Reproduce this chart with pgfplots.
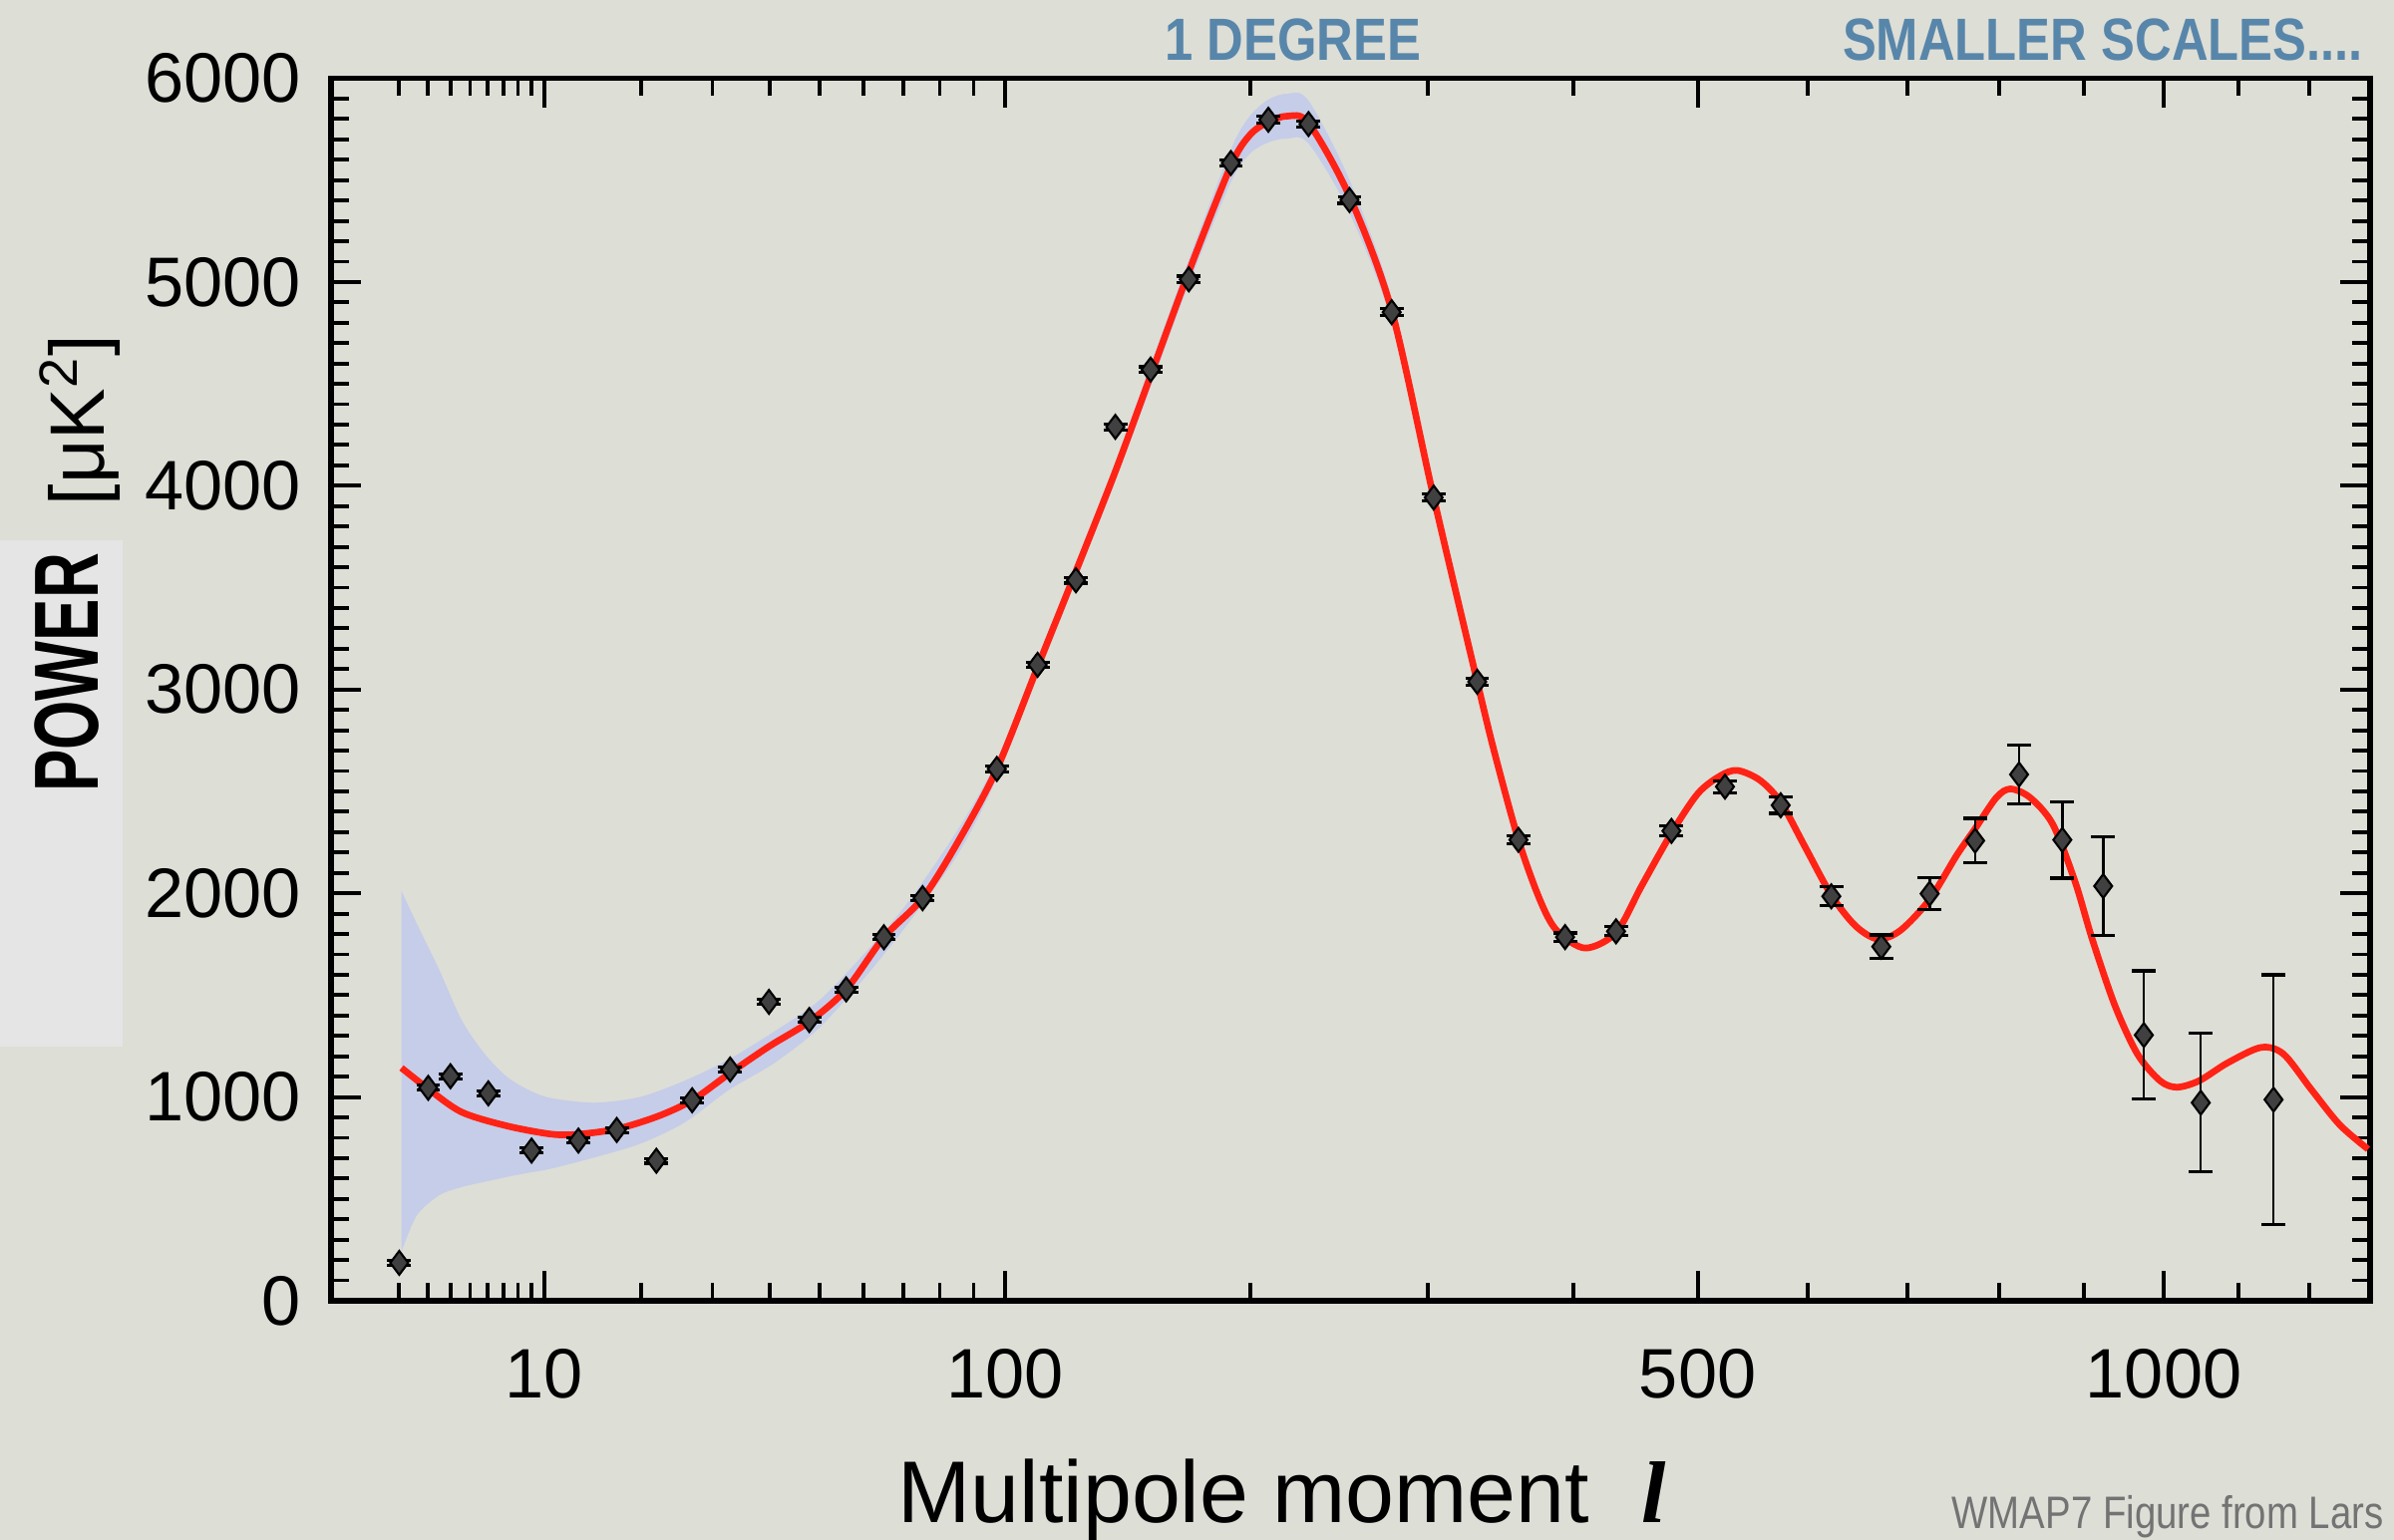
\documentclass[border=0pt]{standalone}
\usepackage{fontspec}
\setmainfont{Liberation Sans}
\newfontfamily\serifbi{Liberation Serif}
\usepackage{graphicx}
\usepackage{pgfplots}
\pgfplotsset{compat=1.18}
\usepackage{pgfplotstable}

\definecolor{paper}{RGB}{221,222,214}
\definecolor{boxgray}{RGB}{229,229,229}
\definecolor{bandblue}{RGB}{197,205,232}
\definecolor{fitred}{RGB}{255,35,22}
\definecolor{steel}{RGB}{88,134,170}

% binned WMAP7 spectrum: l, power, error
\pgfplotstableread{
l v e
2 186 12
3.03 1045 12
4.0 1102 12
6.04 1018 12
9.01 737 12
13.06 786 12
17.07 838 12
21.9 687 12
26.9 984 12
32.9 1135 12
39.8 1467 12
47.8 1378 12
55.9 1528 12
65.0 1784 12
75.2 1976 12
97.3 2610 14
110.9 3121 14
124.7 3536 14
139.9 4289 14
154.4 4570 14
171.1 5013 16
190.7 5584 16
209.2 5796 16
230.2 5775 16
252.9 5402 16
277.6 4852 16
303.6 3942 16
332.0 3038 16
360.3 2262 20
394.1 1785 20
433 1813 22
477.9 2306 25
523.8 2523 30
574.3 2432 40
622.6 1985 47
672.6 1738 57
723.3 1998 80
773 2258 110
822.7 2583 146
873.6 2262 188
923.4 2035 244
974.5 1304 315
1049 972 340
1149 987 613
}\datatable

% best-fit model
\pgfplotstableread{
l v
2.07 1143
3.03 1040
4.55 926
7.18 859
10.56 818
12.97 817
17.07 843
22.07 905
26.9 984
32.9 1118
39.8 1248
47.8 1370
55.9 1528
65.0 1784
75.2 1976
85.4 2255
97.3 2610
110.9 3110
124.7 3580
139.9 4070
154.4 4540
171.1 5050
190.7 5570
200 5722
209.2 5786
219 5814
230.2 5780
252.9 5420
277.6 4860
303.6 3942
332.0 3038
343.9 2685
360.3 2262
375.5 1970
387.8 1818
409 1731
433 1807
453.3 2035
477.9 2295
500.3 2490
519.9 2577
534.8 2603
555.1 2555
574.3 2447
597 2230
622.6 1991
646.5 1840
669.2 1775
692.5 1818
723.3 1970
752.7 2187
773 2317
796.7 2469
812.8 2512
835.6 2469
862.2 2338
889 2056
909.8 1775
937.9 1449
966.3 1211
995.2 1080
1017.4 1048
1047 1080
1085 1167
1131 1243
1163 1211
1203 1037
1244.5 864
1287 744
}\modeltable

% cosmic variance band, upper edge then lower edge back
\pgfplotstableread{
l v
2.07 2011
2.6 1849
3.5 1622
4.55 1378
5.78 1216
7.18 1102
8.77 1035
10.56 995
14.7 972
19.8 1000
25.8 1080
32.7 1185
40.7 1320
49.7 1470
59.8 1695
71.0 1950
85.4 2315
97.3 2655
110.9 3155
124.7 3625
139.9 4115
154.4 4595
171.1 5110
190.7 5650
200 5815
209.2 5895
219 5924
230.2 5890
252.9 5500
277.6 4920
303.6 3987
332 3073
343.9 2715
360.3 2290
360.3 2234
343.9 2655
332 3003
303.6 3897
277.6 4800
252.9 5340
230.2 5680
219 5704
209.2 5685
200 5630
190.7 5490
171.1 4990
154.4 4485
139.9 4025
124.7 3535
110.9 3065
97.3 2565
85.4 2195
71.0 1845
59.8 1575
49.7 1335
40.7 1165
32.7 1035
25.8 875
19.8 770
14.7 704
10.56 648
8.77 628
7.18 607
5.78 583
4.55 558
3.5 518
2.6 420
2.07 242
}\bandtable

\newcommand{\tickfont}{\fontsize{20}{24}\selectfont}

\begin{document}
\begin{tikzpicture}
\fill[paper] (0,0) rectangle (24.01,15.45);
\fill[boxgray] (0,4.95) rectangle (1.23,10.03);

% horizontal axis is linear in l^0.4 (as in the WMAP figure)
\begin{axis}[
    at={(3.32cm,2.40cm)}, anchor=south west,
    scale only axis,
    width=20.45cm, height=12.265cm,
    xmin=0.75786, xmax=17.5483,
    ymin=0, ymax=6000,
    xtick={2.51189,6.30957,12.0112,15.8489},
    xticklabels={10,100,500,1000},
    minor xtick={1.31951,1.55185,1.74110,1.90365,2.04767,2.17791,2.29740,2.40822,
        3.31445,3.89806,4.37345,4.78176,5.14350,5.47000,5.77080,6.04919,
        8.32553,9.79150,10.9856,12.9199,13.7417,14.4955,15.1947,16.4648,17.0478},
    ytick={0,1000,2000,3000,4000,5000,6000},
    yticklabels={0,1000,2000,3000,4000,5000,6000},
    minor ytick={100,200,...,5900},
    scaled y ticks=false,
    tick align=inside,
    major tick length=0.3cm,
    minor tick length=0.18cm,
    every tick/.style={black, line width=1.1pt},
    axis line style={line width=1.5pt},
    tick label style={font=\tickfont, text=black},
    xticklabel style={yshift=-0.36cm},
    yticklabel style={xshift=-0.18cm},
]
\addplot[fill=bandblue, draw=none, smooth, tension=0.5] table[x expr={\thisrow{l}^0.4}, y=v] {\bandtable};

\addplot[fitred, line width=1.9pt, smooth, tension=0.5] table[x expr={\thisrow{l}^0.4}, y=v] {\modeltable};

\addplot[only marks, mark=diamond*, mark size=3.4pt,
    mark options={fill=black!75, draw=black, line width=0.6pt},
    error bars/.cd, y dir=both, y explicit,
    error bar style={black, line width=0.7pt},
    error mark options={rotate=90, mark size=3.4pt, line width=0.9pt}]
    table[x expr={\thisrow{l}^0.4}, y=v, y error=e] {\datatable};
\end{axis}

\node[rotate=90, font=\fontsize{26}{30}\selectfont\bfseries] at (0.67,8.70) {\scalebox{0.695}[1]{POWER}};
\node[rotate=90, font=\fontsize{22}{26}\selectfont] at (0.80,11.23) {[μK\textsuperscript{2}]};

\node[font=\fontsize{17}{20}\selectfont\bfseries, text=steel] at (12.97,15.05) {\scalebox{0.85}[1]{1 DEGREE}};
\node[font=\fontsize{17}{20}\selectfont\bfseries, text=steel] at (21.09,15.05) {\scalebox{0.85}[1]{SMALLER SCALES....}};

\node[anchor=base west, font=\fontsize{25}{30}\selectfont, inner sep=0pt] at (9.00,0.17)
    {Multipole moment\hspace{0.6em}{\serifbi\bfseries\itshape l}};
\node[anchor=base west, font=\fontsize{13}{15}\selectfont, text=black!55, inner sep=0pt] at (19.57,0.11)
    {\scalebox{0.84}[1]{WMAP7 Figure from Lars}};

\pgfresetboundingbox
\useasboundingbox (0,0) rectangle (24.01,15.45);
\end{tikzpicture}
\end{document}
